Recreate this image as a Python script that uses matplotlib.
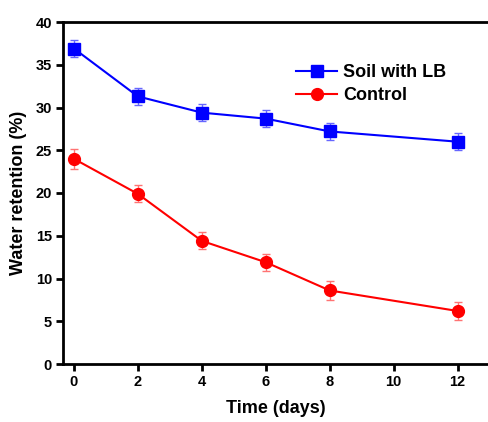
import matplotlib
matplotlib.use("Agg")
import matplotlib.pyplot as plt
from matplotlib.lines import Line2D

days = [0, 2, 4, 6, 8, 12]
soil_lb = [36.9, 31.3, 29.4, 28.7, 27.2, 26.0]
soil_lb_err = [1.0, 1.0, 1.0, 1.0, 1.0, 1.0]
control = [24.0, 19.9, 14.4, 11.9, 8.6, 6.2]
control_err = [1.2, 1.0, 1.0, 1.0, 1.1, 1.0]
x_ticks = [0, 2, 4, 6, 8, 10, 12]
y_ticks = [0, 5, 10, 15, 20, 25, 30, 35, 40]

plt.rcParams['font.family'] = ['Liberation Sans', 'DejaVu Sans']
plt.rcParams['font.weight'] = 'bold'

fig = plt.figure(figsize=(4.88, 4.22), dpi=100)
ax = fig.add_axes([63/488, 1-364/422, 1-63/488, (364-22)/422])

ax.errorbar(days, soil_lb, yerr=soil_lb_err, color='#0000ff', marker='s', markersize=8,
            lw=1.5, ecolor=(0.4, 0.4, 1.0), elinewidth=1, capsize=3, capthick=1,
            zorder=3)
ax.errorbar(days, control, yerr=control_err, color='#ff0000', marker='o', markersize=8.5,
            lw=1.5, ecolor=(1.0, 0.45, 0.45), elinewidth=1, capsize=3, capthick=1,
            zorder=3)

ax.set_xlim(-0.34, 12.95)
ax.set_ylim(0, 40)
ax.set_xticks(x_ticks)
ax.set_yticks(y_ticks)
ax.spines['right'].set_visible(False)
for s in ['left', 'bottom', 'top']:
    ax.spines[s].set_linewidth(2)
ax.tick_params(axis='both', direction='out', width=2, length=5, labelsize=10.5, pad=3)
ax.tick_params(top=False, right=False)
for lab in ax.get_xticklabels() + ax.get_yticklabels():
    lab.set_fontweight('bold')

ax.set_xlabel('Time (days)', fontsize=13, fontweight='bold', labelpad=8)
ax.set_ylabel('Water retention (%)', fontsize=13, fontweight='bold', labelpad=6)

handles = [Line2D([], [], color='#0000ff', marker='s', markersize=8, lw=1.5),
           Line2D([], [], color='#ff0000', marker='o', markersize=8.5, lw=1.5)]
leg = ax.legend(handles, ['Soil with LB', 'Control'], loc='upper left',
                bbox_to_anchor=(0.548, 0.876), frameon=False,
                fontsize=13, handlelength=2.3, handletextpad=0.3, labelspacing=0.3,
                borderaxespad=0, borderpad=0)
for t in leg.get_texts():
    t.set_fontweight('bold')

fig.savefig('out.png', dpi=100)
